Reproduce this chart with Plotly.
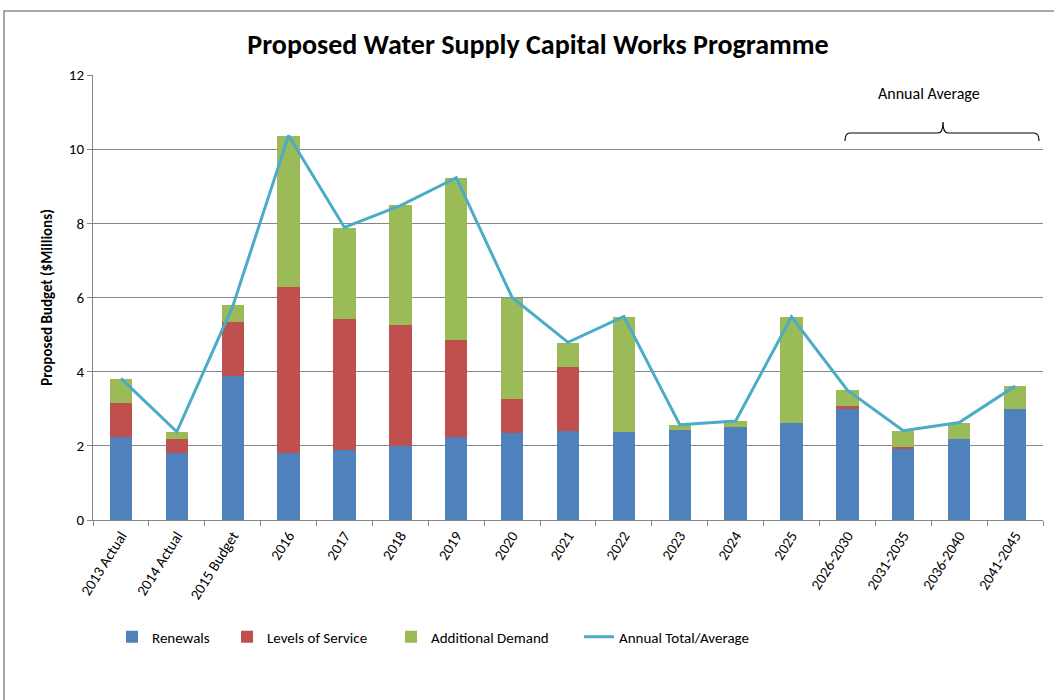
import plotly.graph_objects as go

categories = ["2013 Actual", "2014 Actual", "2015 Budget", "2016", "2017", "2018", "2019",
              "2020", "2021", "2022", "2023", "2024", "2025",
              "2026-2030", "2031-2035", "2036-2040", "2041-2045"]
renewals = [2.25, 1.80, 3.89, 1.82, 1.89, 2.00, 2.25, 2.34, 2.39, 2.36, 2.44, 2.52, 2.61,
            3.00, 1.93, 2.19, 2.99]
levels_of_service = [0.90, 0.38, 1.46, 4.47, 3.52, 3.25, 2.60, 0.91, 1.74, 0.00, 0.00, 0.00, 0.00,
                     0.07, 0.03, 0.00, 0.00]
additional_demand = [0.65, 0.19, 0.44, 4.07, 2.47, 3.24, 4.37, 2.75, 0.65, 3.12, 0.12, 0.15, 2.86,
                     0.44, 0.45, 0.43, 0.62]
annual_total = [3.82, 2.38, 5.76, 10.37, 7.89, 8.48, 9.23, 6.00, 4.79, 5.49, 2.57, 2.67, 5.48,
                3.50, 2.41, 2.63, 3.61]

FONT = "Calibri, Carlito, Lato, sans-serif"
W, H = 1054, 700
L, R, T, B = 93, 1043, 75, 520  # plot area in pixels


def px(x):
    return (x - L) / (R - L)


def py(y):
    return (B - y) / (B - T)


fig = go.Figure()
fig.add_trace(go.Bar(name="Renewals", x=categories, y=renewals, marker_color="#4F81BD",
                     marker_line_width=0, legendwidth=70))
fig.add_trace(go.Bar(name="Levels of Service", x=categories, y=levels_of_service,
                     marker_color="#C0504D", marker_line_width=0, legendwidth=119))
fig.add_trace(go.Bar(name="Additional Demand", x=categories, y=additional_demand,
                     marker_color="#9BBB59", marker_line_width=0, legendwidth=143))
fig.add_trace(go.Scatter(name="Annual Total/Average", x=categories, y=annual_total,
                         mode="lines", line=dict(color="#4BACC6", width=3)))

axis_col = "#868686"
fig.update_layout(
    width=W, height=H,
    margin=dict(l=L, r=W - R, t=T, b=H - B),
    paper_bgcolor="white", plot_bgcolor="white",
    barmode="stack", bargap=0.6,
    font=dict(family=FONT, size=14, color="#000000"),
    title=dict(text="<b>Proposed Water Supply Capital Works Programme</b>",
               font=dict(family=FONT, size=28, color="#000000"),
               x=(248 + 828) / 2 / W, xanchor="center", xref="container",
               y=1 - 44 / H, yanchor="middle"),
    xaxis=dict(type="category", showline=True, linecolor=axis_col, ticks="outside",
               tickson="boundaries", ticklen=5, tickcolor=axis_col, tickangle=-58,
               showgrid=False, tickfont=dict(size=15)),
    yaxis=dict(range=[0, 12], dtick=2, showline=True, linecolor=axis_col, ticks="outside",
               ticklen=5, tickcolor=axis_col, showgrid=True, gridcolor=axis_col, gridwidth=1,
               zeroline=False, tickfont=dict(size=15),
               title=dict(text="<b>Proposed Budget ($Millions)</b>", font=dict(size=15),
                          standoff=12)),
    legend=dict(orientation="h", x=px(112), xanchor="left", y=py(637), yanchor="middle",
                font=dict(size=15), bgcolor="rgba(0,0,0,0)", traceorder="normal"),
    showlegend=True,
)

# Chart border (outer frame)
fig.add_shape(type="rect", xref="paper", yref="paper",
              x0=px(4), x1=px(W + 20), y0=py(H + 20), y1=py(11),
              line=dict(color="#8c8c8c", width=1.5), layer="below")

# Annual average brace
x0, xm, x1 = 845, 943, 1039
yend, yh, ytop = 141, 133, 122
path = (f"M {px(x0)},{py(yend)} Q {px(x0)},{py(yh)} {px(x0 + 5)},{py(yh)} "
        f"L {px(xm - 5)},{py(yh)} Q {px(xm)},{py(yh)} {px(xm)},{py(ytop)} "
        f"Q {px(xm)},{py(yh)} {px(xm + 5)},{py(yh)} "
        f"L {px(x1 - 5)},{py(yh)} Q {px(x1)},{py(yh)} {px(x1)},{py(yend)}")
fig.add_shape(type="path", xref="paper", yref="paper", path=path,
              line=dict(color="#000000", width=1.2))
fig.add_annotation(text="Annual Average", xref="paper", yref="paper",
                   x=px(929), y=py(93), xanchor="center", yanchor="middle", showarrow=False,
                   font=dict(family=FONT, size=16, color="#000000"))

fig.write_html("out.html", config={"displayModeBar": False},
               post_script="document.body.style.margin='0px';")
